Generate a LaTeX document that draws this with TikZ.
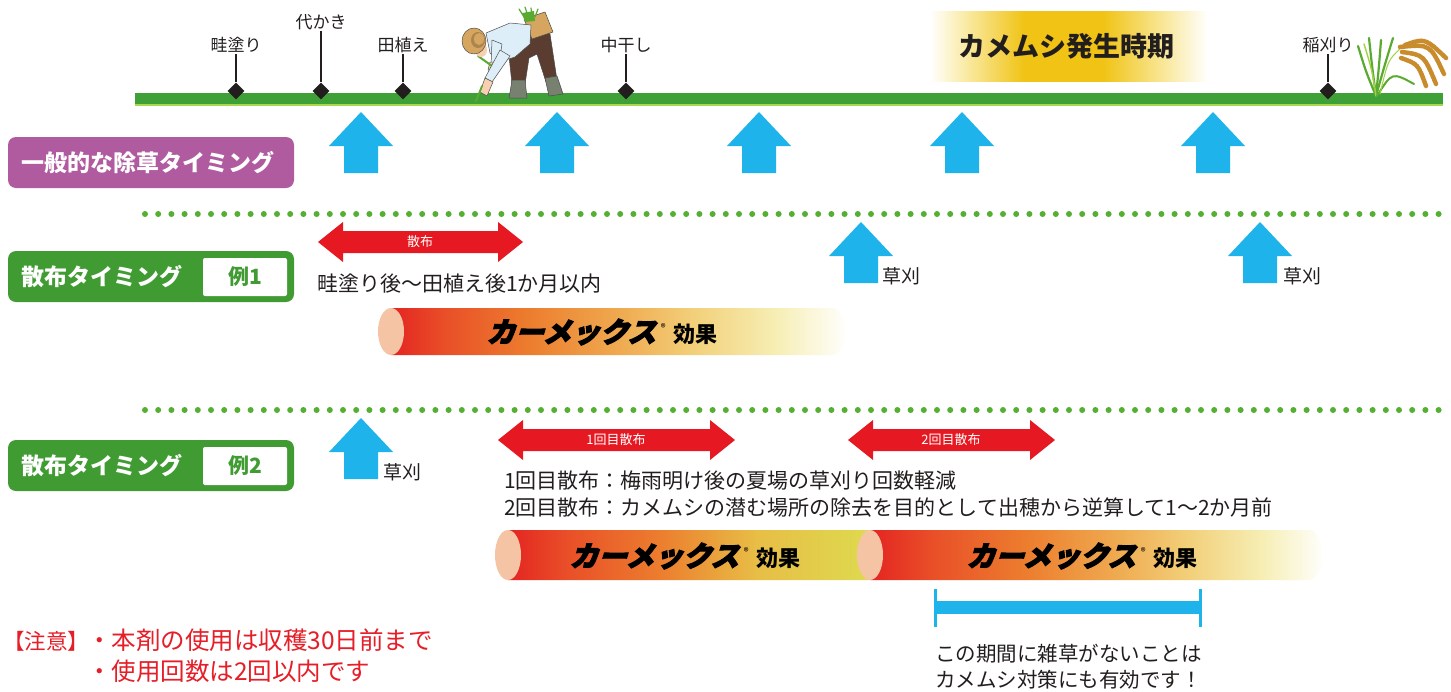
\documentclass[tikz,border=0pt]{standalone}
\usepackage{fontspec}
\setmainfont{Noto Sans CJK JP}
\newfontfamily\logofont{Noto Sans CJK JP}[FakeSlant=0.3,FakeBold=4,FakeStretch=1.02]
\usetikzlibrary{shapes.geometric}

% palette
\definecolor{barGreen}{RGB}{63,160,55}
\definecolor{barLight}{RGB}{170,215,80}
\definecolor{tagGreen}{RGB}{64,155,50}
\definecolor{tagPurple}{RGB}{176,90,160}
\definecolor{dotGreen}{RGB}{85,175,50}
\definecolor{upBlue}{RGB}{30,180,235}
\definecolor{spreadRed}{RGB}{230,25,35}
\definecolor{inkBlack}{RGB}{35,30,30}
\definecolor{noteRed}{RGB}{230,30,40}
\definecolor{capPeach}{RGB}{244,196,164}
\definecolor{glowA}{RGB}{250,236,170}
\definecolor{glowB}{RGB}{240,195,20}
\definecolor{glowC}{RGB}{248,228,140}
\definecolor{cRed}{RGB}{228,36,34}
\definecolor{cRedOr}{RGB}{233,80,40}
\definecolor{cOrange}{RGB}{236,125,46}
\definecolor{cAmber}{RGB}{239,170,80}
\definecolor{cSand}{RGB}{242,208,122}
\definecolor{cPale}{RGB}{246,238,180}
\definecolor{cLime}{RGB}{220,222,80}
\definecolor{cLimeMid}{RGB}{232,190,70}
\definecolor{hatTan}{RGB}{214,166,96}
\definecolor{shirtBlue}{RGB}{222,238,248}
\definecolor{pantsBrown}{RGB}{90,60,48}
\definecolor{bootGray}{RGB}{120,128,112}
\definecolor{skin}{RGB}{246,208,176}
\definecolor{leafGreen}{RGB}{90,170,50}
\definecolor{leafLight}{RGB}{160,210,70}
\definecolor{grainGold}{RGB}{200,140,45}

% gradients (the 25bp..75bp band spans the filled path)
\pgfdeclarehorizontalshading{kamemushiglow}{100bp}{color(0bp)=(white); color(25bp)=(white); color(31bp)=(glowA); color(42bp)=(glowB); color(56bp)=(glowB); color(66bp)=(glowC); color(75bp)=(white); color(100bp)=(white)}
\pgfdeclarehorizontalshading{cylfade}{100bp}{color(0bp)=(cRed); color(25bp)=(cRed); color(31bp)=(cRedOr); color(40bp)=(cOrange); color(50bp)=(cAmber); color(58bp)=(cSand); color(67bp)=(cPale); color(75bp)=(white); color(100bp)=(white)}
\pgfdeclarehorizontalshading{cyllime}{100bp}{color(0bp)=(cRed); color(25bp)=(cRed); color(33bp)=(cRedOr); color(45bp)=(cOrange); color(58bp)=(cLimeMid); color(75bp)=(cLime); color(100bp)=(cLime)}
\pgfdeclarehorizontalshading{cyllong}{100bp}{color(0bp)=(cRed); color(25bp)=(cRed); color(32bp)=(cRedOr); color(42bp)=(cOrange); color(52bp)=(cAmber); color(60bp)=(cSand); color(68bp)=(cPale); color(75bp)=(white); color(100bp)=(white)}

\tikzset{
  stagelabel/.style={font=\fontsize{17}{17}\selectfont, text=inkBlack, inner sep=1pt},
  stagemark/.style={diamond, fill=inkBlack, minimum width=17pt, minimum height=17pt, inner sep=0pt},
  stageline/.style={draw=inkBlack, line width=1.3pt},
  tagbox/.style={rounded corners=8pt},
  tagtext/.style={text=white, font=\bfseries\fontsize{23}{23}\selectfont, inner sep=0pt},
  arrowlabel/.style={text=white, font=\fontsize{13}{13}\selectfont, inner sep=0pt},
  bodytext/.style={text=inkBlack, font=\fontsize{21}{27}\selectfont, inner sep=0pt, anchor=west},
  cuttext/.style={text=inkBlack, font=\fontsize{19}{19}\selectfont, inner sep=0pt},
  notetext/.style={text=noteRed, font=\fontsize{24.5}{31}\selectfont, inner sep=0pt, anchor=west},
  dotrow/.style={dotGreen, line width=6pt, line cap=round, dash pattern=on 0pt off 13.2pt},
}

% blue upward arrow: centre x, tip y, bottom y
\newcommand\uparr[3]{%
  \fill[upBlue] (#1,#2) -- ({#1+32},{#2+34}) -- ({#1+17},{#2+34}) -- ({#1+17},#3)
    -- ({#1-17},#3) -- ({#1-17},{#2+34}) -- ({#1-32},{#2+34}) -- cycle;}
% red double-headed arrow: left x, right x, centre y
\newcommand\dblarr[3]{%
  \fill[spreadRed] (#1,#3) -- ({#1+25},{#3-20}) -- ({#1+25},{#3-11}) -- ({#2-25},{#3-11})
    -- ({#2-25},{#3-20}) -- (#2,#3) -- ({#2-25},{#3+20}) -- ({#2-25},{#3+11})
    -- ({#1+25},{#3+11}) -- ({#1+25},{#3+20}) -- cycle;}
% effect cylinder: cap centre x, right end x, centre y, half height, shading
\newcommand\cylbar[5]{%
  \shade[shading=#5] (#1,{#3-#4}) -- ({#2-13},{#3-#4})
    .. controls ({#2+4},{#3-#4}) and ({#2+4},{#3+#4}) .. ({#2-13},{#3+#4})
    -- (#1,{#3+#4}) -- cycle;
  \fill[capPeach] (#1,#3) ellipse [x radius=13pt, y radius=#4pt];}
% brand mark with "effect"
\newcommand\brand{{\logofont\bfseries\fontsize{28}{28}\selectfont カーメックス}\hspace{5pt}\raisebox{11pt}{\fontsize{10}{10}\selectfont ®}\hspace{8pt}{\bfseries\fontsize{22}{22}\selectfont 効果}}

\begin{document}
\begin{tikzpicture}[x=1pt,y=-1pt]
\useasboundingbox (0,0) rectangle (1451,691);
\fill[white] (0,0) rectangle (1451,691);

% ---------- pest season glow ----------
\shade[shading=kamemushiglow] (930,11) rectangle (1208,81);
\node[font=\bfseries\fontsize{27}{27}\selectfont, text=inkBlack] (season) at (1066,46) {カメムシ発生時期};

% ---------- timeline ----------
\fill[barGreen] (135,93) rectangle (1443,105);
\fill[barLight] (135,104) rectangle (1443,105.5);

\node[stagelabel] (l1) at (236,45) {畦塗り};
\node[stagelabel] (l2) at (321,22) {代かき};
\node[stagelabel] (l3) at (403,45) {田植え};
\node[stagelabel] (l4) at (626,45) {中干し};
\node[stagelabel] (l5) at (1328,45) {稲刈り};
\node[stagemark] (d1) at (236,91) {};
\node[stagemark] (d2) at (321,91) {};
\node[stagemark] (d3) at (403,91) {};
\node[stagemark] (d4) at (626,91) {};
\node[stagemark] (d5) at (1328,91) {};
\foreach \i in {1,...,5} \draw[stageline] (l\i) -- (d\i);

% ---------- farmer planting seedlings ----------
\begin{scope}[line join=round]
  % trousers
  \fill[pantsBrown, draw=black!70, line width=0.5pt] (512,38) -- (534,24) -- (550,34) -- (557,80)
     -- (546,82) -- (537,54) -- (529,58) -- (525,84) -- (512,84) -- (509,56) -- cycle;
  % boots
  \fill[bootGray, draw=black!70, line width=0.5pt] (512,80) -- (525,80) -- (527,98) -- (509,98) -- cycle;
  \fill[bootGray, draw=black!70, line width=0.5pt] (545,78) -- (557,76) -- (563,94) -- (549,96) -- cycle;
  % back basket
  \fill[hatTan, draw=black!70, line width=0.5pt] (524,19) -- (545,12) -- (553,32) -- (532,39) -- cycle;
  % seedlings in the basket
  \draw[leafGreen, line width=1.2pt, line cap=round] (526,20) -- (519,9) (529,19) -- (525,7) (532,18) -- (531,8) (535,17) -- (538,9);
  \fill[leafGreen] (522,13) -- (534,11) -- (535,21) -- (525,22) -- cycle;
  % shirt
  \fill[shirtBlue, draw=black!70, line width=0.5pt] (486,33) -- (510,23) -- (531,25) -- (530,44)
     -- (515,57) -- (499,62) -- (490,53) -- cycle;
  % upper arm holding seedlings
  \fill[shirtBlue, draw=black!70, line width=0.5pt] (492,40) -- (502,44) -- (499,64) -- (491,66) -- cycle;
  \fill[skin, draw=black!70, line width=0.5pt] (490,62) -- (499,62) -- (497,71) -- (488,70) -- cycle;
  \draw[leafGreen, line width=2pt, line cap=round] (492,66) -- (478,56);
  % lower arm reaching the ground
  \fill[shirtBlue, draw=black!70, line width=0.5pt] (500,50) -- (510,56) -- (492,82) -- (485,78) -- cycle;
  \fill[skin, draw=black!70, line width=0.5pt] (485,78) -- (493,82) -- (487,96) -- (480,92) -- cycle;
  \draw[leafGreen, line width=1.8pt, line cap=round] (482,86) -- (476,101);
  % face and hat
  \fill[skin] (481,50) ellipse [x radius=6pt, y radius=7pt];
  \fill[hatTan, draw=black!70, line width=0.5pt] (474,41) ellipse [x radius=12pt, y radius=13pt];
  \fill[hatTan!80!black] (478,40) ellipse [x radius=7pt, y radius=8pt];
  \fill[hatTan] (479,39) ellipse [x radius=5pt, y radius=6pt];
\end{scope}

% ---------- ripe rice plant ----------
\begin{scope}[line cap=round]
  \foreach \tx/\ty/\cx/\cy in {1358/46/1366/72, 1369/38/1372/66, 1381/40/1379/66, 1393/38/1385/64}
    \draw[leafGreen, line width=2.2pt] (1376,96) .. controls (\cx,\cy) .. (\tx,\ty);
  \draw[leafLight, line width=1.4pt] (1376,96) .. controls (1372,70) .. (1364,44);
  \draw[leafGreen, line width=2pt] (1377,96) .. controls (1392,72) .. (1414,84);
  \draw[leafLight, line width=1pt] (1380,94) .. controls (1388,60) .. (1401,48);
  \foreach \sx/\sy/\ax/\ay/\ex/\ey in {1400/47/1430/44/1444/74, 1402/52/1424/55/1436/84, 1401/58/1418/64/1426/86, 1405/45/1425/38/1446/58}
    \draw[grainGold, line width=4.5pt, dash pattern=on 3.2pt off 1pt] (\sx,\sy) .. controls (\ax,\ay) .. (\ex,\ey);
\end{scope}

% ---------- general weeding timing ----------
\fill[tagPurple, tagbox] (8,137) rectangle (294,188);
\node[tagtext, anchor=west] (general) at (21,162.5) {一般的な除草タイミング};
\uparr{361}{112}{173}
\uparr{557}{112}{173}
\uparr{759}{112}{173}
\uparr{962}{112}{173}
\uparr{1213}{112}{173}

\draw[dotrow] (145,214) -- (1443,214);

% ---------- example 1 ----------
\fill[tagGreen, tagbox] (8,251) rectangle (294,302);
\node[tagtext, anchor=west] (ex1tag) at (21,276.5) {散布タイミング};
\fill[white, rounded corners=2pt] (203,258) rectangle (287,296);
\node[text=tagGreen, font=\bfseries\fontsize{21}{21}\selectfont, inner sep=0pt] (ex1) at (245,277) {例1};

\dblarr{318}{523}{242}
\node[arrowlabel] (spread) at (420,242) {散布};
\node[bodytext] (window1) at (317,284) {畦塗り後～田植え後1か月以内};

\uparr{861}{222}{283}
\node[cuttext, anchor=west] (cut1) at (882,276) {草刈};
\uparr{1260}{222}{283}
\node[cuttext, anchor=west] (cut2) at (1283,276) {草刈};

\cylbar{391}{845}{331.5}{23.5}{cylfade}
\node[inner sep=0pt] (effect1) at (602,332) {\brand};

\draw[dotrow] (145,410) -- (1443,410);

% ---------- example 2 ----------
\fill[tagGreen, tagbox] (8,440) rectangle (294,491);
\node[tagtext, anchor=west] (ex2tag) at (21,465.5) {散布タイミング};
\fill[white, rounded corners=2pt] (203,447) rectangle (287,485);
\node[text=tagGreen, font=\bfseries\fontsize{21}{21}\selectfont, inner sep=0pt] (ex2) at (245,466) {例2};

\uparr{361}{418}{479}
\node[cuttext, anchor=west] (cut0) at (383,472) {草刈};

\dblarr{498}{735}{440}
\node[arrowlabel] (spreadA) at (616,440) {1回目散布};
\dblarr{848}{1055}{440}
\node[arrowlabel] (spreadB) at (951,440) {2回目散布};

\node[bodytext] (reasonA) at (504,481) {1回目散布：梅雨明け後の夏場の草刈り回数軽減};
\node[bodytext] (reasonB) at (504,508) {2回目散布：カメムシの潜む場所の除去を目的として出穂から逆算して1～2か月前};

\cylbar{508}{882}{555}{25}{cyllime}
\cylbar{870}{1322}{555}{25}{cyllong}
\node[inner sep=0pt] (effect2) at (685,556) {\brand};
\node[inner sep=0pt] (effect3) at (1082,556) {\brand};

% weed-free span
\fill[upBlue] (934,589) rectangle (937,627);
\fill[upBlue] (1199,589) rectangle (1202,627);
\fill[upBlue] (934,601) rectangle (1202,614);
\node[bodytext, font=\fontsize{20.5}{26}\selectfont, align=left] (benefit) at (935,667) {この期間に雑草がないことは\\カメムシ対策にも有効です！};

% ---------- cautions ----------
\node[notetext, font=\fontsize{21.5}{31}\selectfont] (caution) at (3,641) {【注意】};
\node[notetext, align=left] (rules) at (87,656) {・本剤の使用は収穫30日前まで\\・使用回数は2回以内です};
\end{tikzpicture}
\end{document}
